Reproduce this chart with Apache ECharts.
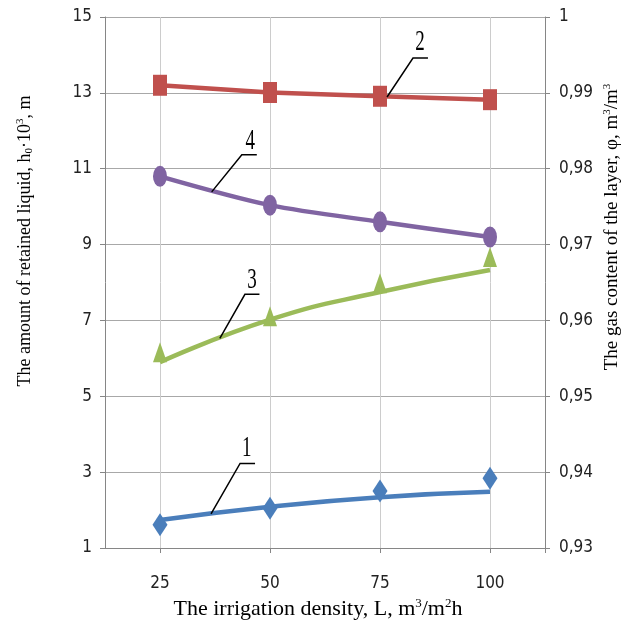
<!DOCTYPE html>
<html>
<head>
<meta charset="utf-8">
<script src="https://cdn.jsdelivr.net/npm/echarts@6/dist/echarts.min.js"></script>
<style>
  html, body { margin: 0; background: #fff; }
  #main { width: 623px; height: 627px; }
</style>
</head>
<body>
<div id="main"></div>
<script>
// irrigation density, m3/m2h
const irrigation = [25, 50, 75, 100]
const xTicks = [25, 50, 75, 100, 112.5]

// curve 1 - retained liquid (left axis): measured points and trend line
const liquid1Points = [1.61, 2.05, 2.5, 2.84]
const liquid1Trend = [1.74, 2.09, 2.34, 2.48]
// curve 3 - retained liquid (left axis)
const liquid3Points = [6.16, 7.11, 7.98, 8.67]
const liquid3Trend = [5.9, 7.02, 7.75, 8.33]
// curve 2 and 4 - gas content of the layer (right axis)
const gas2 = [0.991, 0.99005, 0.98955, 0.9891]
const gas4 = [0.979, 0.9752, 0.973, 0.971]

// callout leaders, in left-axis units: from curve -> knee -> end, number above
const callouts = [
  { text: '1', from: [36.6, 1.9], knee: [43.2, 3.23], to: [46.6, 3.23], label: [44.7, 3.63] },
  { text: '2', from: [76.6, 12.89], knee: [82.5, 13.92], to: [85.9, 13.92], label: [84.1, 14.33] },
  { text: '3', from: [38.6, 6.53], knee: [44.3, 7.69], to: [47.6, 7.69], label: [45.9, 8.06] },
  { text: '4', from: [36.75, 10.39], knee: [43.6, 11.37], to: [47.0, 11.37], label: [45.5, 11.71] }
]

const pairs = arr => irrigation.map((x, i) => [x, arr[i]])

const tickFont = "'Liberation Sans Narrow', 'DejaVu Sans Condensed', sans-serif"
const titleFont = "'Liberation Serif', 'DejaVu Serif', serif"

function titleStyle(size) {
  var small = Math.round(size * 0.6)
  return {
    fontSize: size, fontFamily: titleFont, fill: '#000',
    rich: {
      sup: { fontSize: small, fontFamily: titleFont, color: '#000', verticalAlign: 'top', lineHeight: size + 2 },
      sub: { fontSize: small, fontFamily: titleFont, color: '#000', verticalAlign: 'bottom', lineHeight: size + 2 }
    }
  }
}

const blue = '#4a7ebb'
const red = '#c0504d'
const green = '#9bbb59'
const purple = '#8064a2'

var chart = echarts.init(document.getElementById('main'))

chart.setOption({
  animation: false,
  backgroundColor: '#fff',
  grid: { left: 105, right: 78, top: 17, bottom: 79 },
  xAxis: {
    type: 'value',
    min: 12.5,
    max: 112.5,
    interval: 12.5,
    axisLine: { show: true, lineStyle: { color: '#868686', width: 1 } },
    axisTick: { show: true, length: 5, customValues: xTicks, lineStyle: { color: '#868686' } },
    axisLabel: {
      customValues: irrigation,
      margin: 27,
      fontFamily: tickFont,
      fontSize: 17,
      color: '#222'
    },
    splitLine: { show: true, lineStyle: { color: '#cccccc', width: 1 } }
  },
  yAxis: [
    {
      type: 'value',
      min: 1,
      max: 15,
      interval: 2,
      axisLine: { show: true, lineStyle: { color: '#868686' } },
      axisTick: { show: true, length: 5, lineStyle: { color: '#868686' } },
      axisLabel: { margin: 13, fontFamily: tickFont, fontSize: 17, color: '#222' },
      splitLine: { show: true, lineStyle: { color: '#a8a8a8', width: 1 } }
    },
    {
      type: 'value',
      min: 0.93,
      max: 1,
      interval: 0.01,
      position: 'right',
      axisLine: { show: true, lineStyle: { color: '#868686' } },
      axisTick: { show: true, length: 5, lineStyle: { color: '#868686' } },
      axisLabel: {
        margin: 14,
        fontFamily: tickFont,
        fontSize: 17,
        color: '#222',
        formatter: v => String(Number(v.toFixed(2))).replace('.', ',')
      },
      splitLine: { show: false }
    }
  ],
  series: [
    {
      name: '1 trend', type: 'line', yAxisIndex: 0, smooth: true, showSymbol: false,
      data: pairs(liquid1Trend), lineStyle: { color: blue, width: 4.5 }, z: 2
    },
    {
      name: '1', type: 'scatter', yAxisIndex: 0, symbol: 'diamond', symbolSize: [15, 23],
      data: pairs(liquid1Points), itemStyle: { color: blue, opacity: 1 }, z: 3
    },
    {
      name: '3 trend', type: 'line', yAxisIndex: 0, smooth: true, showSymbol: false,
      data: pairs(liquid3Trend), lineStyle: { color: green, width: 4.5 }, z: 2
    },
    {
      name: '3', type: 'scatter', yAxisIndex: 0, symbol: 'triangle', symbolSize: [14, 20],
      data: pairs(liquid3Points), itemStyle: { color: green, opacity: 1 }, z: 3
    },
    {
      name: '2', type: 'line', yAxisIndex: 1, symbol: 'rect', symbolSize: [14, 21],
      data: pairs(gas2), lineStyle: { color: red, width: 4.5 }, itemStyle: { color: red }, z: 3
    },
    {
      name: '4', type: 'line', yAxisIndex: 1, smooth: 0.3, symbol: 'circle', symbolSize: [14, 21],
      data: pairs(gas4), lineStyle: { color: purple, width: 4.5 }, itemStyle: { color: purple }, z: 3
    }
  ]
})

// callouts and axis titles
function px(p) {
  return chart.convertToPixel({ xAxisIndex: 0, yAxisIndex: 0 }, p)
}

var graphics = []
callouts.forEach(function (c) {
  var a = px(c.from), b = px(c.knee), e = px(c.to), l = px(c.label)
  graphics.push({
    type: 'polyline',
    shape: { points: [a, b, e] },
    style: { stroke: '#000', lineWidth: 1.5, fill: null },
    z: 10
  })
  graphics.push({
    type: 'text',
    x: l[0], y: l[1],
    scaleY: 1.5,
    style: { text: c.text, fontSize: 19, fontFamily: titleFont, fill: '#000', textAlign: 'center', textVerticalAlign: 'middle' },
    z: 10
  })
})

graphics.push({
  type: 'text', x: 25, y: 241, rotation: Math.PI / 2,
  style: Object.assign({ text: 'The amount of retained liquid, h{sub|0}·10{sup|3}, m', textAlign: 'center', textVerticalAlign: 'middle' }, titleStyle(18))
})
graphics.push({
  type: 'text', x: 612, y: 227, rotation: Math.PI / 2,
  style: Object.assign({ text: 'The gas content of the layer, φ, m{sup|3}/m{sup|3}', textAlign: 'center', textVerticalAlign: 'middle' }, titleStyle(19))
})
graphics.push({
  type: 'text', x: 318, y: 609,
  style: Object.assign({ text: 'The irrigation density, L, m{sup|3}/m{sup|2}h', textAlign: 'center', textVerticalAlign: 'middle' }, titleStyle(22))
})

chart.setOption({ graphic: graphics })
</script>
</body>
</html>
